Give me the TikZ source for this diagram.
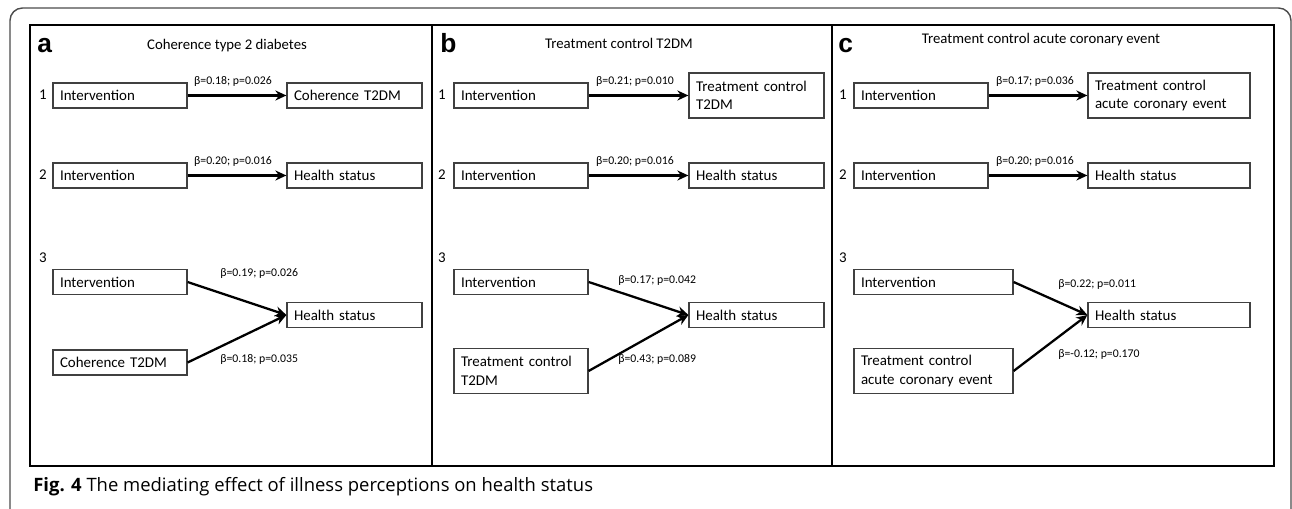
\documentclass[tikz,border=0pt]{standalone}
\usepackage{fontspec}
\newfontfamily\carlito{Carlito}
\newfontfamily\helv{Liberation Sans}
\newfontfamily\capfont{Open Sans}
\usetikzlibrary{arrows.meta}

\begin{document}
\begin{tikzpicture}[x=0.02cm,y=-0.02cm]
\tikzstyle{box}=[draw=black!75,line width=0.7pt,inner xsep=0.14cm,inner ysep=0pt,align=left,minimum height=0.5cm,font=\carlito\fontsize{8.5}{10.5}\selectfont]
\tikzstyle{tall}=[minimum height=0.9cm]
\tikzstyle{effect}=[line width=1.3pt,-{Stealth[length=0.22cm,width=0.2cm]}]
\tikzstyle{coef}=[font=\carlito\fontsize{6.7}{7.5}\selectfont,inner sep=0pt]
\tikzstyle{rowno}=[font=\carlito\fontsize{8.5}{10}\selectfont,inner sep=0pt,anchor=base]
\tikzstyle{title}=[font=\carlito\fontsize{8.4}{10}\selectfont,inner sep=0pt,anchor=base]
\tikzstyle{letter}=[font=\helv\bfseries\fontsize{15}{15}\selectfont,inner sep=0pt,anchor=base west]

\useasboundingbox (0,0) rectangle (1292,509);

% frames
\draw[black!70,line width=0.8pt,rounded corners=0.25cm] (10,512) -- (10,8) -- (1291,8) -- (1291,512);
\draw[line width=1.1pt] (30,25) rectangle (1274,466);
\draw[line width=1.1pt] (432,25) -- (432,466);
\draw[line width=1.1pt] (832,25) -- (832,466);

% panel a
\node[letter] (la) at (37,53) {a};
\node[title] (ta) at (227,50) {Coherence type 2 diabetes};

\node[rowno] (a1) at (43,100) {1};
\node[box,text width=2.40cm] (A1in) at (120,95.5) {Intervention};
\node[box,text width=2.42cm] (A1out) at (354.5,95.5) {Coherence T2DM};
\draw[effect] (A1in) -- (A1out);
\node[coef,anchor=base] (A1c) at (233,85) {β=0.18; p=0.026};

\node[rowno] (a2) at (43,180) {2};
\node[box,text width=2.40cm] (A2in) at (120,175.5) {Intervention};
\node[box,text width=2.42cm] (A2out) at (354.5,175.5) {Health status};
\draw[effect] (A2in) -- (A2out);
\node[coef,anchor=base] (A2c) at (233,165) {β=0.20; p=0.016};

\node[rowno] (a3) at (43,263) {3};
\node[box,text width=2.40cm] (A3in) at (120,282) {Intervention};
\node[box,text width=2.40cm] (A3med) at (120,362.5) {Coherence T2DM};
\node[box,text width=2.42cm] (A3out) at (354.5,315) {Health status};
\draw[effect] (A3in.east) -- (A3out.west);
\draw[effect] (A3med.east) -- (A3out.west);
\node[coef,anchor=base west] (A3c1) at (220,277) {β=0.19; p=0.026};
\node[coef,anchor=base west] (A3c2) at (220,363) {β=0.18; p=0.035};

% panel b
\node[letter] (lb) at (440,53) {b};
\node[title] (tb) at (619,48.5) {Treatment control T2DM};

\node[rowno] (b1) at (442,100) {1};
\node[box,text width=2.40cm] (B1in) at (521,95.5) {Intervention};
\node[box,tall,text width=2.42cm] (B1out) at (756.5,95.5) {Treatment control\\T2DM};
\draw[effect] (B1in) -- (B1out);
\node[coef,anchor=base] (B1c) at (635,85) {β=0.21; p=0.010};

\node[rowno] (b2) at (442,180) {2};
\node[box,text width=2.40cm] (B2in) at (521,175.5) {Intervention};
\node[box,text width=2.42cm] (B2out) at (756.5,175.5) {Health status};
\draw[effect] (B2in) -- (B2out);
\node[coef,anchor=base] (B2c) at (635,165) {β=0.20; p=0.016};

\node[rowno] (b3) at (442,263) {3};
\node[box,text width=2.40cm] (B3in) at (521,282) {Intervention};
\node[box,tall,text width=2.40cm] (B3med) at (521,371) {Treatment control\\T2DM};
\node[box,text width=2.42cm] (B3out) at (756.5,315) {Health status};
\draw[effect] (B3in.east) -- (B3out.west);
\draw[effect] (B3med.east) -- (B3out.west);
\node[coef,anchor=base west] (B3c1) at (618,284) {β=0.17; p=0.042};
\node[coef,anchor=base west] (B3c2) at (618,363) {β=0.43; p=0.089};

% panel c
\node[letter] (lc) at (838,53) {c};
\node[title] (tc) at (1041,43.5) {Treatment control acute coronary event};

\node[rowno] (c1) at (843,100) {1};
\node[box,text width=2.40cm] (C1in) at (921,95.5) {Intervention};
\node[box,tall,text width=2.96cm] (C1out) at (1169,95.5) {Treatment control\\acute coronary event};
\draw[effect] (C1in) -- (C1out);
\node[coef,anchor=base] (C1c) at (1035,85) {β=0.17; p=0.036};

\node[rowno] (c2) at (843,180) {2};
\node[box,text width=2.40cm] (C2in) at (921,175.5) {Intervention};
\node[box,text width=2.96cm] (C2out) at (1169,175.5) {Health status};
\draw[effect] (C2in) -- (C2out);
\node[coef,anchor=base] (C2c) at (1035,165) {β=0.20; p=0.016};

\node[rowno] (c3) at (843,263) {3};
\node[box,text width=2.90cm] (C3in) at (933.5,282) {Intervention};
\node[box,tall,text width=2.90cm] (C3med) at (933.5,371) {Treatment control\\acute coronary event};
\node[box,text width=2.96cm] (C3out) at (1169,315) {Health status};
\draw[effect] (C3in.east) -- (C3out.west);
\draw[effect] (C3med.east) -- (C3out.west);
\node[coef,anchor=base west] (C3c1) at (1058,288) {β=0.22; p=0.011};
\node[coef,anchor=base west] (C3c2) at (1058,358) {β=-0.12; p=0.170};

% caption
\node[anchor=base west,inner sep=0pt,font=\capfont\fontsize{10.5}{12}\selectfont] (cap) at (33,492) {{\bfseries Fig. 4} The mediating effect of illness perceptions on health status};

\end{tikzpicture}
\end{document}
